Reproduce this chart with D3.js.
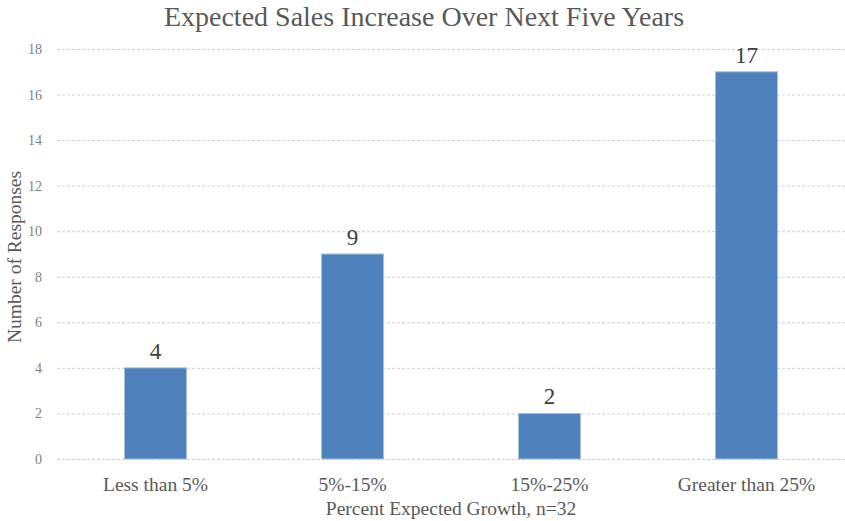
<!DOCTYPE html>
<html>
<head>
<meta charset="utf-8">
<script src="https://cdn.jsdelivr.net/npm/d3@7"></script>
<style>
  body { margin: 0; background: #fff; }
  svg text { font-family: "Liberation Serif", "Times New Roman", serif; }
</style>
</head>
<body>
<div id="chart"></div>
<script>
let svgWidth = 845;
let svgHeight = 521;

// chart data
let categories = ["Less than 5%", "5%-15%", "15%-25%", "Greater than 25%"];
let responses = [4, 9, 2, 17];
let yTicks = [0, 2, 4, 6, 8, 10, 12, 14, 16, 18];

let margin = { top: 49, right: 0, bottom: 62, left: 57 };
let width = svgWidth - margin.left - margin.right;
let height = svgHeight - margin.top - margin.bottom;

let svg = d3.select("#chart")
    .append("svg")
    .attr("width", svgWidth)
    .attr("height", svgHeight);

let chartGroup = svg.append("g")
    .attr("transform", `translate(${margin.left}, ${margin.top})`);

let xScale = d3.scaleBand()
    .domain(categories)
    .range([0, width])
    .paddingInner(0.685)
    .paddingOuter(0.3425);

let yScale = d3.scaleLinear()
    .domain([0, 18])
    .range([height, 0]);

// gridlines
chartGroup.append("g")
    .selectAll("line")
    .data(yTicks)
    .enter()
    .append("line")
    .attr("x1", 0)
    .attr("x2", width)
    .attr("y1", d => yScale(d) + 0.5)
    .attr("y2", d => yScale(d) + 0.5)
    .attr("stroke", "#d0d0d0")
    .attr("stroke-width", 1)
    .attr("stroke-dasharray", "3,2");

// y axis tick labels
let leftAxis = d3.axisLeft(yScale).tickValues(yTicks).tickSize(0).tickPadding(15);
let yAxis = chartGroup.append("g").call(leftAxis);
yAxis.select(".domain").remove();
yAxis.selectAll("text")
    .attr("fill", "#7f7f7f")
    .attr("font-size", 14)
    .style("font-family", "'Liberation Serif', serif");

// bars
chartGroup.selectAll("rect.bar")
    .data(responses)
    .enter()
    .append("rect")
    .attr("class", "bar")
    .attr("x", (d, i) => xScale(categories[i]))
    .attr("y", d => yScale(d))
    .attr("width", xScale.bandwidth())
    .attr("height", d => height - yScale(d))
    .attr("fill", "#4f81bd")
    .attr("stroke", "#a7c0de")
    .attr("stroke-width", 1);

// value labels
chartGroup.selectAll("text.val")
    .data(responses)
    .enter()
    .append("text")
    .attr("class", "val")
    .attr("x", (d, i) => xScale(categories[i]) + xScale.bandwidth() / 2)
    .attr("y", d => yScale(d) - 9)
    .attr("text-anchor", "middle")
    .attr("font-size", 23)
    .attr("fill", "#404040")
    .text(d => d);

// x axis category labels
let bottomAxis = d3.axisBottom(xScale).tickSize(0);
let xAxis = chartGroup.append("g")
    .attr("transform", `translate(0, ${height})`)
    .call(bottomAxis);
xAxis.select(".domain").remove();
xAxis.selectAll("text")
    .attr("y", 32)
    .attr("dy", 0)
    .attr("fill", "#595959")
    .attr("font-size", 19.5)
    .style("font-family", "'Liberation Serif', serif");

// title
svg.append("text")
    .attr("x", 424)
    .attr("y", 26)
    .attr("text-anchor", "middle")
    .attr("font-size", 28)
    .attr("fill", "#595959")
    .text("Expected Sales Increase Over Next Five Years");

// x axis title
svg.append("text")
    .attr("x", 451)
    .attr("y", 515)
    .attr("text-anchor", "middle")
    .attr("font-size", 19.5)
    .attr("fill", "#595959")
    .text("Percent Expected Growth, n=32");

// y axis title
svg.append("text")
    .attr("transform", "rotate(-90)")
    .attr("x", -257)
    .attr("y", 21)
    .attr("text-anchor", "middle")
    .attr("font-size", 19.5)
    .attr("fill", "#595959")
    .text("Number of Responses");
</script>
</body>
</html>
